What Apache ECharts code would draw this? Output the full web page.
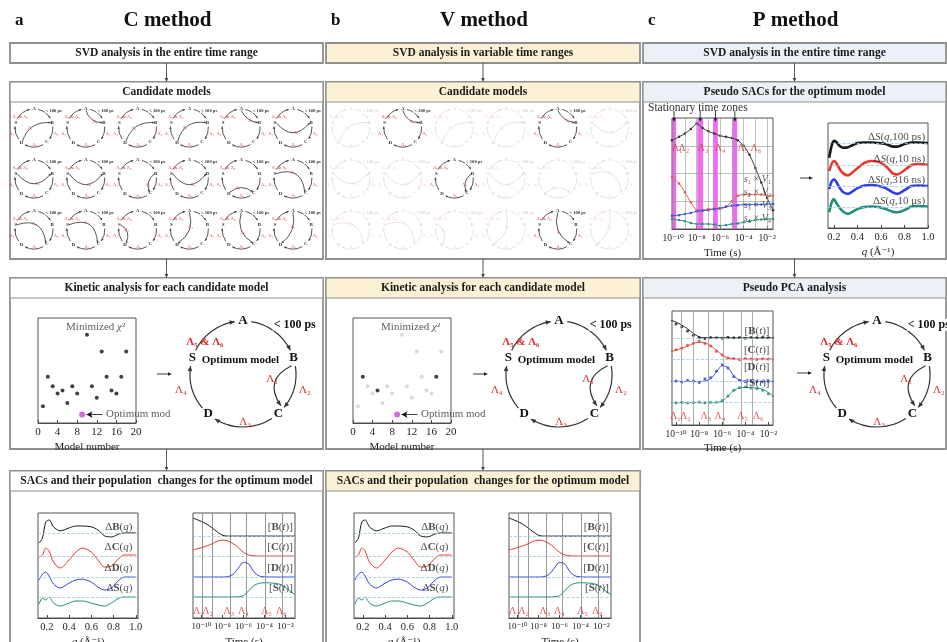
<!DOCTYPE html>
<html>
<head>
<meta charset="utf-8">
<script src="https://cdn.jsdelivr.net/npm/echarts@6.0.0/dist/echarts.min.js"></script>
<style>
html,body{margin:0;padding:0;background:#fff;}
#chart{width:947px;height:642px;}
</style>
</head>
<body>
<div id="chart"></div>
<script>
// ======================= DATA =======================
const panelLetters = ['a', 'b', 'c'];
const methodTitles = ['C method', 'V method', 'P method'];
const row1Titles = ['SVD analysis in the entire time range', 'SVD analysis in variable time ranges', 'SVD analysis in the entire time range'];
const row2Titles = ['Candidate models', 'Candidate models', 'Pseudo SACs for the optimum model'];
const row3Titles = ['Kinetic analysis for each candidate model', 'Kinetic analysis for each candidate model', 'Pseudo PCA analysis'];
const row4Titles = ['SACs and their population  changes for the optimum model', 'SACs and their population  changes for the optimum model'];

const stateNames = ['A', 'B', 'C', 'D', 'S'];
const lambdaNames = ['Λ₁', 'Λ₂', 'Λ₃', 'Λ₄', 'Λ₅', 'Λ₆'];
const speciesNames = ['B', 'C', 'D', 'S'];

// extra pathway of each candidate model: [from, to, bend]
const candidatePaths = [
  ['D','B',-0.1], ['A','B',0.55], ['D','B',-0.1], ['D','B',-0.15], ['A','B',0.6], ['S','B',-0.25],
  ['S','B',-0.25], ['S','B',-0.3], ['B','C',0.6], ['S','B',-0.3], ['D','C',0.45], ['S','C',-0.3],
  ['S','C',-0.3], ['S','C',-0.35], ['S','D',0.55], ['A','D',0.0], ['A','C',0.0], ['A','D',0.05]
];

// minimized chi^2 for each candidate model
const modelNumber = [1,2,3,4,5,6,7,8,9,10,11,12,13,14,15,16,17,18];
const minimizedChi2 = [1.6,4.4,3.5,2.8,3.1,1.9,3.5,2.8,0.8,8.4,3.5,2.4,6.8,4.4,3.1,2.8,4.4,6.8];
const optimumModel = 9;
const vMethodModels = [2, 5, 9, 17];
const modelTicks = [0, 4, 8, 12, 16, 20];

// tick values
const timeTickExp = [-10, -8, -6, -4, -2];
const qTicks = [0.2, 0.4, 0.6, 0.8, 1.0];

// P method: SVD right singular vectors (s_i x V_i) vs log10(time)
const svdTimeExp = [-10.1,-9.5,-9,-8.5,-8,-7.5,-7,-6.5,-6,-5.5,-5,-4.5,-4,-3.5,-3,-2.5,-2,-1.5];
const s1V1 = [8.0,8.3,8.6,9.0,9.5,9.1,8.8,8.6,8.4,8.3,8.2,8.0,7.5,6.7,5.5,4.2,2.8,1.7];
const s2V2 = [4.7,4.1,3.3,2.4,1.7,1.7,1.8,1.8,1.8,2.0,2.5,3.0,3.1,3.1,3.1,3.1,3.0,3.0];
const s3V3 = [1.2,1.25,1.35,1.45,1.6,1.65,1.7,1.8,1.9,2.0,2.1,2.15,2.2,2.2,2.2,2.2,2.25,2.25];
const s4V4 = [0.9,0.8,0.7,0.55,0.45,0.45,0.45,0.4,0.3,0.35,0.45,0.5,0.6,0.7,0.8,0.85,0.9,0.9];
const svdLabels = ['{i|s}₁ × {i|V}₁', '{i|s}₂ × {i|V}₂', '{i|s}₃ × {i|V}₃', '{i|s}₄ × {i|V}₄'];
const stationaryZones = [[-10.1,-9.75], [-7.95,-7.45], [-6.6,-6.2], [-4.95,-4.55]];
const svdLambdaExp = [-9.67,-9.08,-7.46,-6.01,-4.06,-2.95];

// P method: pseudo SACs
const qPseudo = [0.16,0.18,0.2,0.22,0.25,0.28,0.32,0.36,0.4,0.46,0.52,0.58,0.64,0.7,0.74,0.8,0.86,0.92,1.0];
const pseudo100ps = [-1.4,-0.3,0.2,0.1,-0.3,-0.45,-0.4,-0.2,0,0.05,0.05,0,-0.1,-0.35,-0.35,-0.1,0.05,0.05,0];
const pseudo10ns  = [-0.57,0.1,0.38,0.2,-0.4,-0.8,-1.0,-0.7,-0.3,0.2,0.38,0.3,-0.1,-0.8,-0.9,-0.5,0,0.1,0];
const pseudo316ns = [-0.3,0.4,0.65,0.4,-0.2,-0.6,-0.75,-0.5,-0.2,0.05,0.1,0,-0.2,-0.6,-0.75,-0.4,0,0.05,0];
const pseudo10us  = [-0.5,0.4,0.75,0.4,-0.1,-0.45,-0.65,-0.45,-0.2,0,0.05,0,-0.2,-0.45,-0.5,-0.3,0.05,0.1,0.05];
const pseudoDelays = ['100 ps', '10 ns', '316 ns', '10 μs'];

// SACs of the optimum model
const qSAC = [0.13,0.16,0.19,0.22,0.26,0.32,0.4,0.46,0.52,0.6,0.66,0.72,0.78,0.85,0.9,1.0];
const sacB = [-0.48,-0.24,0.52,0.62,0.29,0.10,0.24,0.33,0.33,0.29,0.14,-0.14,-0.19,-0.05,0,0];
const sacC = [-0.05,0.05,0.38,0.24,-0.29,-0.57,-0.19,0.19,0.38,0.19,-0.19,-0.52,-0.48,-0.1,0.05,0.05];
const sacD = [-0.14,0.14,0.24,0.05,-0.33,-0.52,-0.29,-0.14,-0.1,-0.24,-0.48,-0.62,-0.52,-0.14,0,0];
const sacS = [-0.33,-0.05,-0.14,0,-0.29,-0.43,-0.29,-0.19,-0.19,-0.29,-0.38,-0.43,-0.29,-0.05,0,0];

// population changes of the optimum model vs log10(time)
const popTimeExp = [-10.8,-10.5,-10,-9.5,-9,-8.5,-8,-7.5,-7,-6.5,-6,-5.5,-5,-4.5,-4,-3.5,-3,-2.5,-2,-1.5,-1.1];
const popB = [0.86,0.8,0.7,0.57,0.4,0.2,0.04,0,0,0,0,0,0,0,0,0,0,0,0,0,0];
const popC = [0.3,0.33,0.4,0.48,0.58,0.7,0.76,0.72,0.6,0.4,0.18,0.05,0.01,0,0,0,0,0,0,0,0];
const popD = [0,0,0,0,0,0,0,0.02,0.12,0.42,0.7,0.62,0.25,0.05,0.01,0,0,0,0,0,0];
const popS = [0,0,0,0,0,0,0,0,0,0.01,0.06,0.3,0.55,0.65,0.68,0.67,0.65,0.6,0.45,0.25,0.12];
const popLambdaExp = [-10.3,-9.4,-7.4,-6.0,-3.8,-2.4];
const popZoneLines = [-9.9,-9.0,-7.3,-5.7,-3.9,-2.3];

// pseudo PCA measured points
const pcaTimeExp = [-10,-9.5,-9,-8.5,-8,-7.5,-7,-6.5,-6,-5.5,-5,-4.5,-4,-3.5,-3,-2.5,-2];
const pcaB = [0.62,0.5,0.3,0.12,0.02,-0.03,0.02,0,-0.02,0.03,0,0.02,-0.02,0.01,0,0.03,0];
const pcaC = [0.42,0.5,0.62,0.7,0.8,0.7,0.58,0.35,0.18,0.05,0.02,-0.03,0.02,0,-0.02,0.01,0];
const pcaD = [0.02,-0.03,0.05,0.02,-0.05,0.12,0.18,0.45,0.75,0.6,0.22,0.05,-0.02,0.02,0,-0.02,0.01];
const pcaS = [0,0.02,-0.02,0.01,0.03,0,0.02,0.02,0.1,0.3,0.55,0.68,0.7,0.66,0.62,0.55,0.4];
const pcaLambdaExp = [-10.05,-9.2,-7.42,-6.2,-4.23,-2.9];
const pcaZoneLines = [-9.57,-8.54,-7.25,-5.95,-4.32,-3.37];

// ======================= STYLE / LAYOUT =======================
const SERIF = "'Liberation Serif','DejaVu Serif',serif";
const COLORS = ['#1a1a1a', '#e8372f', '#2f3fe0', '#1f8f7a'];
const RED = '#e02828';
const COLS = [{x: 10, w: 313}, {x: 326, w: 314}, {x: 643, w: 303}];
const HEAD_FILL = ['#ffffff', '#fcf1d4', '#ecf0f7'];
const ROWS = [{y: 43, h: 20}, {y: 82, h: 177}, {y: 278, h: 171}, {y: 471, h: 180}];
const HEAD_H = 20;
const popOffsets = [3.9, 2.95, 1.95, 1.0];
const sacOffsets = [4.05, 2.95, 1.95, 1.0];
const pseudoOffsets = [8.1, 6.0, 4.0, 2.0];

const SUP = {'-':'⁻','0':'⁰','1':'¹','2':'²','3':'³','4':'⁴','5':'⁵','6':'⁶','7':'⁷','8':'⁸','9':'⁹'};
function pow10(v) { return '10' + String(Math.round(v)).split('').map(c => SUP[c] || c).join(''); }

// ======================= GRAPHIC HELPERS =======================
const G = [];
function gText(x, y, text, o) {
  o = o || {};
  const fs = o.size || 11;
  const style = {
    text: text,
    font: (o.italic ? 'italic ' : '') + (o.weight || 'normal') + ' ' + fs + 'px ' + SERIF,
    fill: o.color || '#111',
    align: o.align || 'center',
    verticalAlign: o.va || 'middle'
  };
  if (o.bg) { style.backgroundColor = o.bg; style.padding = [0, 1]; }
  if (o.rich) style.rich = o.rich;
  G.push({type: 'text', x: x, y: y, z: o.z || 100, silent: true, style: style});
}
function gLine(x1, y1, x2, y2, color, w, z) {
  G.push({type: 'line', z: z || 20, silent: true, shape: {x1, y1, x2, y2}, style: {stroke: color, lineWidth: w || 1}});
}
function arrowHead(x, y, ang, size, color, z) {
  const bx = x - size * Math.cos(ang), by = y - size * Math.sin(ang);
  const px = -Math.sin(ang) * size * 0.45, py = Math.cos(ang) * size * 0.45;
  G.push({type: 'polygon', z: z || 21, silent: true,
    shape: {points: [[x, y], [bx + px, by + py], [bx - px, by - py]]}, style: {fill: color}});
}
function hArrow(x1, x2, y) { gLine(x1, y, x2 - 3, y, '#222', 0.9); arrowHead(x2, y, 0, 4, '#222'); }
function vArrow(x, y1, y2) { gLine(x, y1, x, y2 - 3, '#444', 0.9); arrowHead(x, y2, Math.PI / 2, 4, '#444'); }
function box(col, row, title, fill, headOnly) {
  const c = COLS[col], r = ROWS[row];
  G.push({type: 'rect', z: -5, silent: true, shape: {x: c.x, y: r.y, width: c.w, height: r.h},
    style: {fill: headOnly ? fill : '#fff', stroke: '#8f8f8f', lineWidth: 1.8}});
  if (!headOnly) {
    G.push({type: 'rect', z: -4, silent: true, shape: {x: c.x, y: r.y, width: c.w, height: HEAD_H},
      style: {fill: fill, stroke: '#8f8f8f', lineWidth: 1.2}});
  }
  gText(c.x + c.w / 2, r.y + (headOnly ? r.h : HEAD_H) / 2 + 0.5, title, {weight: 'bold', size: 11.5, color: '#1a1a1a'});
}

// kinetic model diagram
const NODE_ANG = {A: -90, B: -17.6, C: 48, D: 131, S: 197.6};
function pol(cx, cy, r, deg) { const a = deg * Math.PI / 180; return [cx + r * Math.cos(a), cy + r * Math.sin(a)]; }
function drawModel(cx, cy, r, o) {
  const segs = [['A','B'], ['B','C'], ['C','D'], ['D','S'], ['S','A']];
  segs.forEach(([f, t]) => {
    let a0 = NODE_ANG[f], a1 = NODE_ANG[t];
    if (a1 < a0) a1 += 360;
    const s = a0 + o.gap, e = a1 - o.gap;
    G.push({type: 'arc', z: 20, silent: true,
      shape: {cx, cy, r, startAngle: s * Math.PI / 180, endAngle: e * Math.PI / 180, clockwise: true},
      style: {stroke: o.line, fill: 'none', lineWidth: o.lw}});
    const p = pol(cx, cy, r, e);
    arrowHead(p[0], p[1], (e + 90) * Math.PI / 180, o.ah, o.line);
  });
  if (o.chord) {
    const [f, t, bend] = o.chord;
    const sh = o.big ? 8 : 0;
    const p0 = pol(cx, cy, r * 0.93, NODE_ANG[f] + sh), p2 = pol(cx, cy, r * 0.93, NODE_ANG[t] - sh);
    const mx = (p0[0] + p2[0]) / 2, my = (p0[1] + p2[1]) / 2;
    const dx = mx - cx, dy = my - cy, dl = Math.hypot(dx, dy) || 1;
    const tx = cx + dx / dl * bend * r, ty = cy + dy / dl * bend * r;
    const cpx = 2 * tx - mx, cpy = 2 * ty - my;
    G.push({type: 'bezierCurve', z: 20, silent: true,
      shape: {x1: p0[0], y1: p0[1], x2: p2[0], y2: p2[1], cpx1: cpx, cpy1: cpy},
      style: {stroke: o.line, fill: 'none', lineWidth: o.lw}});
    arrowHead(p2[0], p2[1], Math.atan2(p2[1] - cpy, p2[0] - cpx), o.ah, o.line);
    if (o.big) gText(cx + 0.55 * r, cy + 0.1 * r, 'Λ₁', {size: o.rfs, color: o.red});
    else gText(tx - dy / dl * 0.18 * r, ty + dx / dl * 0.18 * r, 'Λ₁', {size: o.rfs, color: o.red});
  }
  stateNames.forEach(n => { const p = pol(cx, cy, r, NODE_ANG[n]); gText(p[0], p[1], n, {weight: 'bold', size: o.fs, color: o.txt}); });
  gText(cx + 0.56 * r, cy - 0.93 * r, '< 100 ps', {align: 'left', weight: 'bold', size: o.fs * 0.92, color: o.txt, bg: '#fff', z: 99});
  gText(cx - 0.72 * r, cy - 0.6 * r, 'Λ₅ & Λ₆', {size: o.rfs, color: o.red, weight: o.big ? 'bold' : 'normal'});
  gText(cx - 1.17 * r, cy + 0.3 * r, 'Λ₄', {size: o.rfs, color: o.red});
  gText(cx + 1.17 * r, cy + 0.3 * r, 'Λ₂', {size: o.rfs, color: o.red});
  gText(cx + 0.04 * r, cy + 0.9 * r, 'Λ₃', {size: o.rfs, color: o.red});
  if (o.big) gText(cx - 0.05 * r, cy - 0.27 * r, 'Optimum model', {weight: 'bold', size: 11});
}
const MINI = {line: '#444', red: '#d94040', txt: '#333', lw: 0.9, ah: 2.4, gap: 13, fs: 5, rfs: 4.5, big: false};
const FADED = {line: '#e3dcdc', red: '#f5d2d2', txt: '#e0d8d8', lw: 0.8, ah: 2.2, gap: 13, fs: 5, rfs: 4.5, big: false};
const BIG = {line: '#333', red: RED, txt: '#111', lw: 1.2, ah: 5, gap: 9, fs: 13, rfs: 11, big: true};

// ======================= CHART HELPERS =======================
const grids = [], xAxes = [], yAxes = [], series = [];
function addGrid(rect, xa, ya) {
  grids.push(Object.assign({show: true, z: 1, borderColor: '#555', borderWidth: 1, backgroundColor: 'rgba(0,0,0,0)',
    containLabel: false, outerBoundsMode: 'none'}, rect));
  const i = grids.length - 1;
  xAxes.push(Object.assign({gridIndex: i}, xa));
  yAxes.push(Object.assign({gridIndex: i}, ya));
  return i;
}
function richFor(fs, color) {
  return {
    b: {fontWeight: 'bold', fontFamily: SERIF, fontSize: fs, color: color},
    i: {fontStyle: 'italic', fontFamily: SERIF, fontSize: fs, color: color}
  };
}
function xValAxis(min, max, ticks, fmt, name, nameGap, fs) {
  return {type: 'value', min, max,
    axisLine: {show: true, onZero: false, lineStyle: {color: '#444', width: 1}},
    axisTick: {show: true, inside: true, length: 3, customValues: ticks, lineStyle: {color: '#444'}},
    axisLabel: {customValues: ticks, formatter: fmt, fontFamily: SERIF, fontSize: fs || 10, color: '#222', margin: 4},
    splitLine: {show: false},
    name: name, nameLocation: 'middle', nameGap: nameGap,
    nameTextStyle: {fontFamily: SERIF, fontSize: 11, color: '#222', rich: richFor(11, '#222')}};
}
function yHidden(min, max) {
  return {type: 'value', min, max, axisLine: {show: false}, axisTick: {show: false}, axisLabel: {show: false}, splitLine: {show: false}};
}
function lineSeries(gi, xs, ys, offset, color, width, extra) {
  return Object.assign({type: 'line', xAxisIndex: gi, yAxisIndex: gi, silent: true, z: 3,
    data: xs.map((x, i) => [x, ys[i] + offset]), symbol: 'none', smooth: 0.3,
    lineStyle: {color: color, width: width}, itemStyle: {color: color}}, extra || {});
}
function dummySeries(gi, x0, extra) {
  return Object.assign({type: 'line', xAxisIndex: gi, yAxisIndex: gi, silent: true, z: 1,
    data: [[x0, 0]], symbol: 'none', lineStyle: {opacity: 0}}, extra);
}
function labelSeries(gi, items) {
  series.push({type: 'scatter', xAxisIndex: gi, yAxisIndex: gi, symbolSize: 0, silent: true, clip: false, z: 6,
    data: items.map(it => ({value: [it.x, it.y], label: {show: true, position: 'inside',
      formatter: () => it.text, align: it.align || 'center', verticalAlign: 'middle',
      color: it.color || '#222', fontFamily: SERIF, fontSize: it.size || 10, fontWeight: it.weight || 'normal',
      rich: richFor(it.size || 10, it.color || '#222')}}))});
}
function vLines(vals, color, w, type) { return vals.map(v => ({xAxis: v, lineStyle: {color: color, width: w, type: type || 'solid'}})); }
function hLines(vals, color, w, type) { return vals.map(v => ({yAxis: v, lineStyle: {color: color, width: w, type: type || 'solid'}})); }
function markLines(data) { return {silent: true, symbol: 'none', label: {show: false}, animation: false, data: data}; }

// ======================= BUILD =======================
// titles
COLS.forEach((c, i) => {
  gText(c.x + 5, 21, panelLetters[i], {align: 'left', weight: 'bold', size: 17});
  gText(c.x + c.w / 2 + 1, 21, methodTitles[i], {weight: 'bold', size: 21});
});
// boxes and flow arrows
for (let i = 0; i < 3; i++) {
  box(i, 0, row1Titles[i], HEAD_FILL[i], true);
  box(i, 1, row2Titles[i], HEAD_FILL[i], false);
  box(i, 2, row3Titles[i], HEAD_FILL[i], false);
  if (i < 2) box(i, 3, row4Titles[i], HEAD_FILL[i], false);
  const cx = COLS[i].x + COLS[i].w / 2;
  vArrow(cx, ROWS[0].y + ROWS[0].h, ROWS[1].y);
  vArrow(cx, ROWS[1].y + ROWS[1].h, ROWS[2].y);
  if (i < 2) vArrow(cx, ROWS[2].y + ROWS[2].h, ROWS[3].y);
}

// candidate models (C and V methods)
const miniRows = [128, 179, 230];
for (let k = 0; k < candidatePaths.length; k++) {
  const row = Math.floor(k / 6), col = k % 6;
  drawModel(34 + col * 51.8, miniRows[row], 19, Object.assign({}, MINI, {chord: candidatePaths[k]}));
  const kept = vMethodModels.indexOf(modelNumber[k]) >= 0;
  drawModel(351 + col * 51.7, miniRows[row], 19, Object.assign({}, kept ? MINI : FADED, {chord: candidatePaths[k]}));
}

// optimum model diagrams (row 3)
[243, 559, 877].forEach(cx => drawModel(cx, 374, 53, Object.assign({}, BIG, {chord: ['B', 'C', 0.62]})));
hArrow(157, 172, 374); hArrow(473, 488, 374); hArrow(797, 812, 373);
hArrow(800, 813, 178);

// chi^2 scatter panels
function scatterPanel(left, vMethod) {
  const gi = addGrid({left: left, top: 318, width: 98, height: 105},
    xValAxis(0, 20, modelTicks, v => String(v), 'Model number', 19, 11), yHidden(0, 10));
  const pts = modelNumber.map((m, i) => [m, minimizedChi2[i]]);
  const opt = pts.filter(p => p[0] === optimumModel);
  const others = pts.filter(p => p[0] !== optimumModel);
  const strong = vMethod ? others.filter(p => vMethodModels.indexOf(p[0]) >= 0) : others;
  const weak = vMethod ? others.filter(p => vMethodModels.indexOf(p[0]) < 0) : [];
  if (weak.length) series.push({type: 'scatter', xAxisIndex: gi, yAxisIndex: gi, silent: true, data: weak, symbolSize: 4, itemStyle: {color: '#d6cfd0'}});
  series.push({type: 'scatter', xAxisIndex: gi, yAxisIndex: gi, silent: true, data: strong, symbolSize: 4, itemStyle: {color: '#111'}});
  const oy = opt[0][1];
  series.push({type: 'scatter', xAxisIndex: gi, yAxisIndex: gi, silent: true, data: opt, symbolSize: 6,
    itemStyle: {color: '#cf45e0'}, z: 4,
    markLine: {silent: true, symbol: ['none', 'arrow'], symbolSize: [5, 6], label: {show: false},
      lineStyle: {color: '#111', width: 0.8, type: 'solid'},
      data: [[{coord: [13.2, oy]}, {coord: [9.9, oy]}]]}});
  labelSeries(gi, [
    {x: 17.8, y: 9.1, text: 'Minimized {i|χ}²', align: 'right', size: 11, color: '#333'},
    {x: 13.9, y: oy, text: 'Optimum mod', align: 'left', size: 11, color: '#333'}
  ]);
}
scatterPanel(38, false);
scatterPanel(353, true);

// SAC + population panels (row 4, C and V methods)
function row4(dx) {
  const g1 = addGrid({left: 38 + dx, top: 513, width: 100, height: 105},
    xValAxis(0.12, 1.02, qTicks, v => v.toFixed(1), '{i|q} (Å⁻¹)', 19, 10.5), yHidden(0, 5));
  series.push(dummySeries(g1, 0.12, {markLine: markLines(hLines(sacOffsets, '#9fc8d8', 0.8, 'dashed'))}));
  [sacB, sacC, sacD, sacS].forEach((arr, j) => series.push(lineSeries(g1, qSAC, arr, sacOffsets[j], COLORS[j], 1)));
  const ly = [4.33, 3.38, 2.38, 1.43];
  labelSeries(g1, speciesNames.map((n, j) => ({x: 0.97, y: ly[j], text: 'Δ{b|' + n + '}({i|q})', align: 'right', size: 11})));

  const g2 = addGrid({left: 193 + dx, top: 513, width: 102, height: 105},
    xValAxis(-10.8, -1.1, timeTickExp, pow10, 'Time (s)', 19, 9), yHidden(0, 5));
  series.push(dummySeries(g2, -10.8, {markLine: markLines(
    vLines(popZoneLines, '#6a6a6a', 0.7).concat(hLines(popOffsets, '#9fc8d8', 0.8, 'dashed')))}));
  [popB, popC, popD, popS].forEach((arr, j) => series.push(lineSeries(g2, popTimeExp, arr, popOffsets[j], COLORS[j], 1)));
  labelSeries(g2, speciesNames.map((n, j) => ({x: -1.3, y: ly[j], text: '[{b|' + n + '}({i|t})]', align: 'right', size: 11})));
  labelSeries(g2, lambdaNames.map((n, j) => ({x: popLambdaExp[j], y: 0.32, text: n, size: 10, color: RED})));
}
row4(0);
row4(316);

// P method: SVD vectors with stationary time zones
const gSvd = addGrid({left: 672, top: 118, width: 101, height: 111},
  xValAxis(-10.1, -1.5, timeTickExp, pow10, 'Time (s)', 19, 9.5), yHidden(0, 10));
series.push(dummySeries(gSvd, -10.1, {
  markArea: {silent: true, itemStyle: {color: 'rgba(238,70,238,0.8)'}, data: stationaryZones.map(z => [{xAxis: z[0]}, {xAxis: z[1]}])},
  markLine: markLines(vLines([-10,-9,-8,-7,-6,-5,-4,-3,-2], '#8a9a8a', 0.6).concat(hLines([2.5, 5, 7.5], '#8a9a8a', 0.6)))
}));
[s1V1, s2V2, s3V3, s4V4].forEach((arr, j) => series.push(lineSeries(gSvd, svdTimeExp, arr, 0,
  ['#333', '#e8574f', '#3a4fe0', '#2a8f80'][j], 1, {symbol: 'circle', symbolSize: 2.5, showSymbol: true, smooth: 0.15})));
labelSeries(gSvd, svdLabels.map((t, j) => ({x: -1.65, y: [4.5, 3.3, 2.1, 0.95][j], text: t, align: 'right', size: 10, color: '#333'})));
labelSeries(gSvd, lambdaNames.map((n, j) => ({x: svdLambdaExp[j], y: 7.3, text: n, size: 10, color: RED})));
gText(648, 108, 'Stationary time zones', {align: 'left', size: 11.5, color: '#333'});

// P method: pseudo SACs
const gPs = addGrid({left: 828, top: 123, width: 100, height: 105},
  xValAxis(0.15, 1.0, qTicks, v => v.toFixed(1), '{i|q} (Å⁻¹)', 19, 10.5), yHidden(0, 10));
series.push(dummySeries(gPs, 0.15, {markLine: markLines(hLines(pseudoOffsets, '#9fc8d8', 0.8, 'dashed'))}));
[pseudo100ps, pseudo10ns, pseudo316ns, pseudo10us].forEach((arr, j) =>
  series.push(lineSeries(gPs, qPseudo, arr, pseudoOffsets[j], COLORS[j], 2.6, {smooth: 0.2})));
labelSeries(gPs, pseudoDelays.map((d, j) => ({x: 0.975, y: pseudoOffsets[j] + 0.55, text: 'Δ{i|S}({i|q},' + d + ')', align: 'right', size: 11})));

// P method: pseudo PCA
const gPca = addGrid({left: 672, top: 311, width: 101, height: 114},
  xValAxis(-10.35, -1.6, timeTickExp, pow10, 'Time (s)', 18, 9.5), yHidden(0, 5.1));
series.push(dummySeries(gPca, -10.35, {markLine: markLines(
  vLines(pcaZoneLines, '#8a8a8a', 0.7).concat(hLines(popOffsets, '#9fc8d8', 0.8, 'dashed')))}));
[popB, popC, popD, popS].forEach((arr, j) => series.push(lineSeries(gPca, popTimeExp, arr, popOffsets[j], COLORS[j], 0.9)));
[pcaB, pcaC, pcaD, pcaS].forEach((arr, j) => series.push({type: 'scatter', xAxisIndex: gPca, yAxisIndex: gPca, silent: true, z: 4,
  data: pcaTimeExp.map((t, i) => [t, arr[i] + popOffsets[j]]), symbolSize: 3, itemStyle: {color: COLORS[j]}}));
labelSeries(gPca, speciesNames.map((n, j) => ({x: -1.9, y: [4.2, 3.36, 2.6, 1.88][j], text: '[{b|' + n + '}({i|t})]', align: 'right', size: 11})));
labelSeries(gPca, lambdaNames.map((n, j) => ({x: pcaLambdaExp[j], y: 0.4, text: n, size: 10, color: RED})));

// ======================= RENDER =======================
const chart = echarts.init(document.getElementById('chart'), null, {renderer: 'canvas', width: 947, height: 642});
chart.setOption({
  animation: false,
  backgroundColor: '#ffffff',
  textStyle: {fontFamily: SERIF},
  grid: grids, xAxis: xAxes, yAxis: yAxes, series: series,
  graphic: {elements: G}
});
// arrows marking the stationary time zones (positions from the axis scale)
stationaryZones.forEach(z => {
  const p = chart.convertToPixel({gridIndex: gSvd}, [(z[0] + z[1]) / 2, 10]);
  gLine(p[0], p[1] - 7, p[0], p[1] + 1, '#222', 0.9, 30);
  arrowHead(p[0], p[1] + 4, Math.PI / 2, 4, '#222', 31);
});
chart.setOption({graphic: {elements: G}});
</script>
</body>
</html>
